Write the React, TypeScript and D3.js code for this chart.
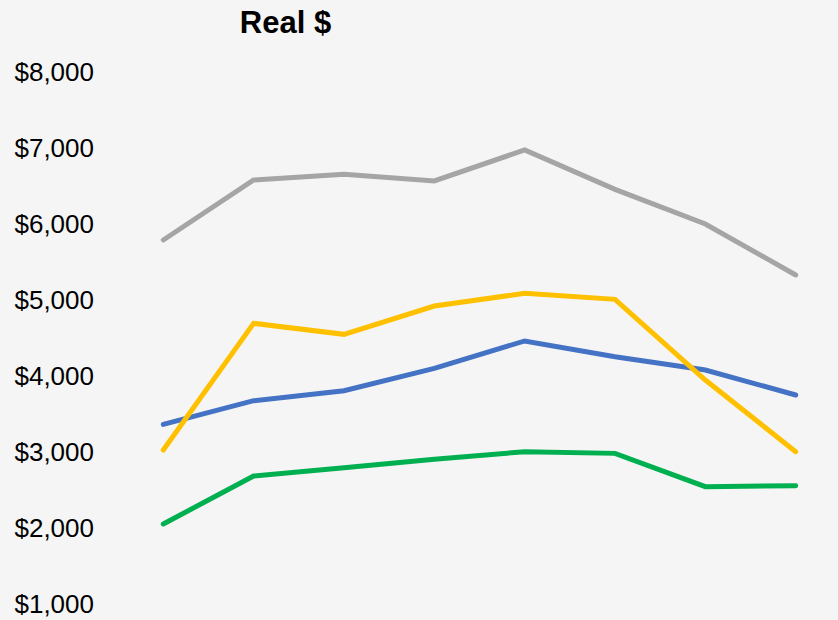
import React from "react";
import * as d3 from "d3";

const categories = ["1", "2", "3", "4", "5", "6", "7", "8"];
const seriesNames = ["Series A", "Series B", "Series C", "Series D"];
const seriesA = [3364, 3675, 3807, 4101, 4461, 4254, 4079, 3750];
const seriesB = [5790, 6579, 6654, 6566, 6974, 6456, 6000, 5329];
const seriesC = [3026, 4693, 4548, 4921, 5088, 5009, 3947, 3004];
const seriesD = [2053, 2684, 2794, 2904, 3004, 2982, 2544, 2557];
const seriesColors = ["#4472C4", "#A5A5A5", "#FFC000", "#00B050"];
const yTicks = [1000, 2000, 3000, 4000, 5000, 6000, 7000, 8000];
const title = "Real $";

const W = 838;
const H = 620;

export default function App() {
  const x = d3.scalePoint<string>().domain(categories).range([163.3, 795.7]);
  const y = d3.scaleLinear().domain([1000, 8000]).range([604, 72]);
  const fmt = (v: number) => "$" + d3.format(",")(v);
  const line = d3
    .line<number>()
    .x((_, i) => x(categories[i]) as number)
    .y((d) => y(d));
  const allSeries = [seriesA, seriesB, seriesC, seriesD];

  return (
    <svg
      width={W}
      height={H}
      style={{ position: "absolute", left: 0, top: 0, background: "#F5F5F5" }}
      fontFamily="'Liberation Sans', Arial, sans-serif"
    >
      <rect x={0} y={0} width={W} height={H} fill="#F5F5F5" />
      <text x={285.5} y={33} textAnchor="middle" fontSize={31} fontWeight="bold" fill="#000">
        {title}
      </text>
      {yTicks.map((t) => (
        <text key={t} x={94} y={y(t) + 9} textAnchor="end" fontSize={26} fill="#000">
          {fmt(t)}
        </text>
      ))}
      {allSeries.map((s, i) => (
        <path
          key={seriesNames[i]}
          d={line(s) || ""}
          fill="none"
          stroke={seriesColors[i]}
          strokeWidth={5}
          strokeLinecap="round"
          strokeLinejoin="miter"
        />
      ))}
    </svg>
  );
}
